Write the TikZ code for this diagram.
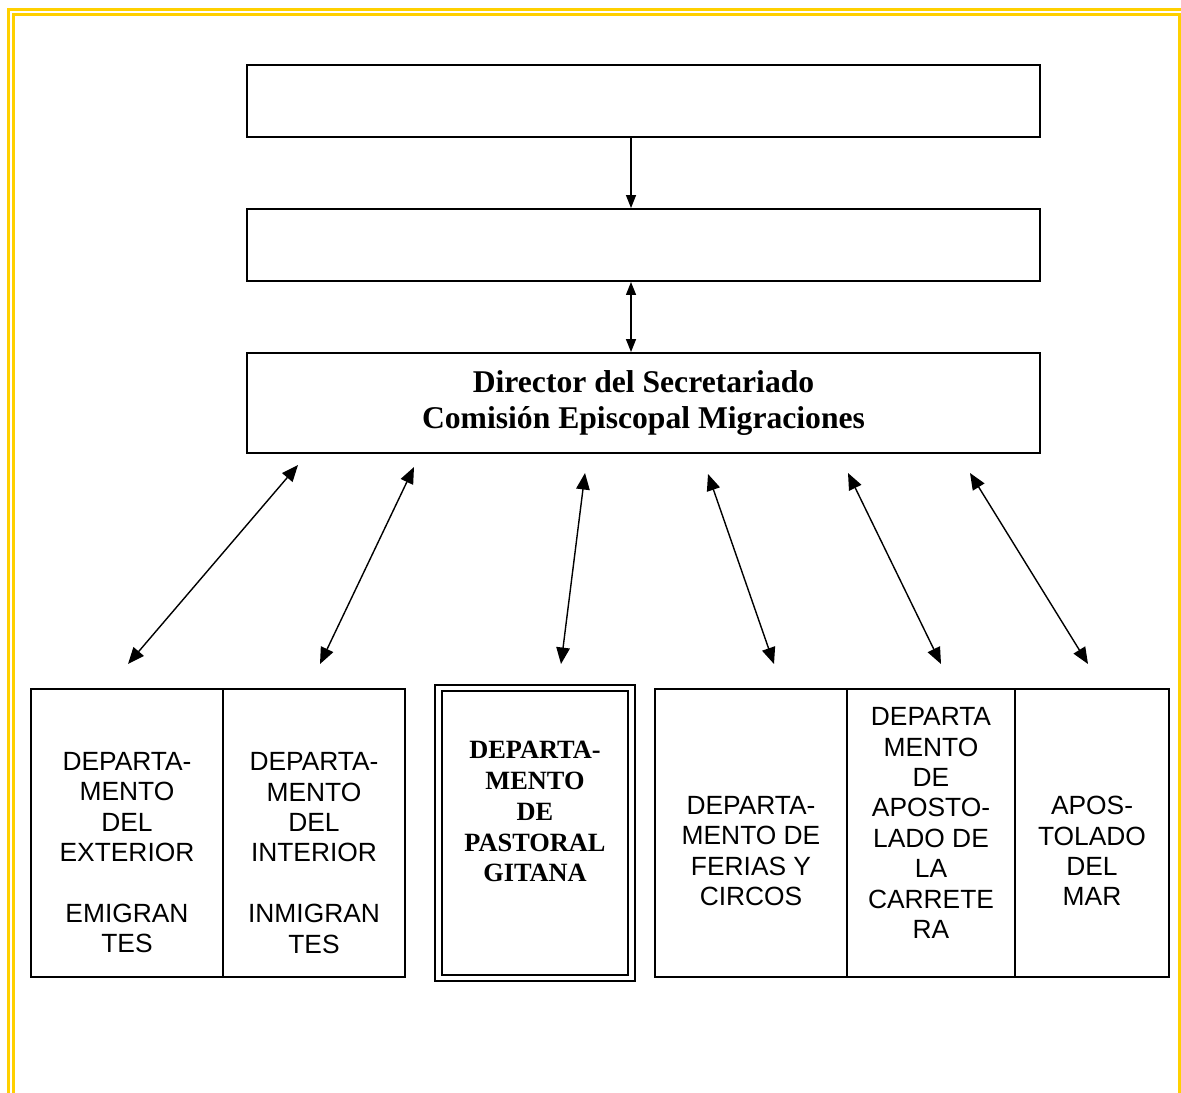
\documentclass[tikz,border=0pt]{standalone}
\usepackage{fontspec}
\setmainfont{Liberation Serif}
\setsansfont{Liberation Sans}
\usepackage{tikz}
\usetikzlibrary{arrows.meta,positioning}
\definecolor{migraGold}{RGB}{255,208,0}
\tikzset{
  migraFrame/.style={draw=migraGold, line width=1.7pt, double=white, double distance=1.4pt},
  migraBox/.style={draw, line width=1.1pt, inner sep=0pt, minimum width=15.86cm, minimum height=1.44cm},
  migraDirector/.style={draw, line width=1.1pt, inner sep=0pt, minimum width=15.86cm, minimum height=2cm, align=center, font=\rmfamily\bfseries\fontsize{18}{21}\selectfont},
  migraCell/.style={draw, line width=1.1pt, inner sep=0pt, minimum height=5.76cm},
  migraGitana/.style={draw, line width=1.2pt, double=white, double distance=2.3pt, inner sep=0pt, minimum width=3.86cm, minimum height=5.79cm},
  migraCellText/.style={align=center, inner sep=0pt, font=\sffamily\fontsize{15}{17.3}\selectfont},
  migraGitanaText/.style={align=center, inner sep=0pt, font=\rmfamily\bfseries\fontsize{15}{17.6}\selectfont},
  migraArrow/.style={-{Triangle[length=2.6mm, width=2mm]}, line width=0.8pt},
  migraBothArrow/.style={{Triangle[length=2.6mm, width=2mm]}-{Triangle[length=2.6mm, width=2mm]}, line width=0.8pt},
  migraLinkArrow/.style={{Triangle[length=3.3mm, width=2.7mm]}-{Triangle[length=3.3mm, width=2.7mm]}, line width=0.8pt}
}
\begin{document}
\begin{tikzpicture}
      \useasboundingbox (0,0) rectangle (23.62,-21.84);
      \draw[migraFrame] (0.217,-0.237) rectangle (23.646,-22.3);
      % upper chain
      \node[migraBox] (top) at (12.87,-2.02) {};
      \node[migraBox] (sub) at (12.87,-4.90) {};
      \node[migraDirector] (director) at (12.87,-8.06) {Director del Secretariado\\Comisión Episcopal Migraciones};
      \draw[migraArrow] ([xshift=-2.5mm]top.south) -- ([xshift=-2.5mm]sub.north);
      \draw[migraBothArrow] ([xshift=-2.5mm]sub.south) -- ([xshift=-2.5mm]director.north);
      % departments
      \node[migraCell, minimum width=3.84cm] (exterior) at (2.54,-16.66) {};
      \node[migraCell, minimum width=3.64cm] (interior) at (6.28,-16.66) {};
      \node[migraGitana] (gitana) at (10.70,-16.66) {};
      \node[migraCell, minimum width=3.84cm] (ferias) at (15.02,-16.66) {};
      \node[migraCell, minimum width=3.36cm] (carretera) at (18.62,-16.66) {};
      \node[migraCell, minimum width=3.08cm] (mar) at (21.84,-16.66) {};
      \node[migraCellText] (exteriorText) at (2.54,-17.05) {DEPARTA-\\MENTO\\DEL\\EXTERIOR\\[17.3pt]EMIGRAN\\TES};
      \node[migraCellText] (interiorText) at (6.28,-17.06) {DEPARTA-\\MENTO\\DEL\\INTERIOR\\[17.3pt]INMIGRAN\\TES};
      \node[migraGitanaText] (gitanaText) at (10.70,-16.23) {DEPARTA-\\MENTO\\DE\\PASTORAL\\GITANA};
      \node[migraCellText] (feriasText) at (15.02,-17.02) {DEPARTA-\\MENTO DE\\FERIAS Y\\CIRCOS};
      \node[migraCellText] (carreteraText) at (18.62,-16.46) {DEPARTA\\MENTO\\DE\\APOSTO-\\LADO DE\\LA\\CARRETE\\RA};
      \node[migraCellText] (marText) at (21.84,-17.02) {APOS-\\TOLADO\\DEL\\MAR};
      % free ends of the links
      \coordinate (dirEnd1) at (5.96,-9.30);
      \coordinate (dirEnd2) at (8.28,-9.34);
      \coordinate (dirEnd3) at (11.70,-9.46);
      \coordinate (dirEnd4) at (14.16,-9.48);
      \coordinate (dirEnd5) at (16.96,-9.46);
      \coordinate (dirEnd6) at (19.40,-9.46);
      \coordinate (deptEnd1) at (2.56,-13.28);
      \coordinate (deptEnd2) at (6.40,-13.28);
      \coordinate (deptEnd3) at (11.22,-13.28);
      \coordinate (deptEnd4) at (15.48,-13.28);
      \coordinate (deptEnd5) at (18.82,-13.28);
      \coordinate (deptEnd6) at (21.76,-13.28);
      \draw[migraLinkArrow] (dirEnd1) -- (deptEnd1);
      \draw[migraLinkArrow] (dirEnd2) -- (deptEnd2);
      \draw[migraLinkArrow] (dirEnd3) -- (deptEnd3);
      \draw[migraLinkArrow] (dirEnd4) -- (deptEnd4);
      \draw[migraLinkArrow] (dirEnd5) -- (deptEnd5);
      \draw[migraLinkArrow] (dirEnd6) -- (deptEnd6);
    \end{tikzpicture}
\end{document}
